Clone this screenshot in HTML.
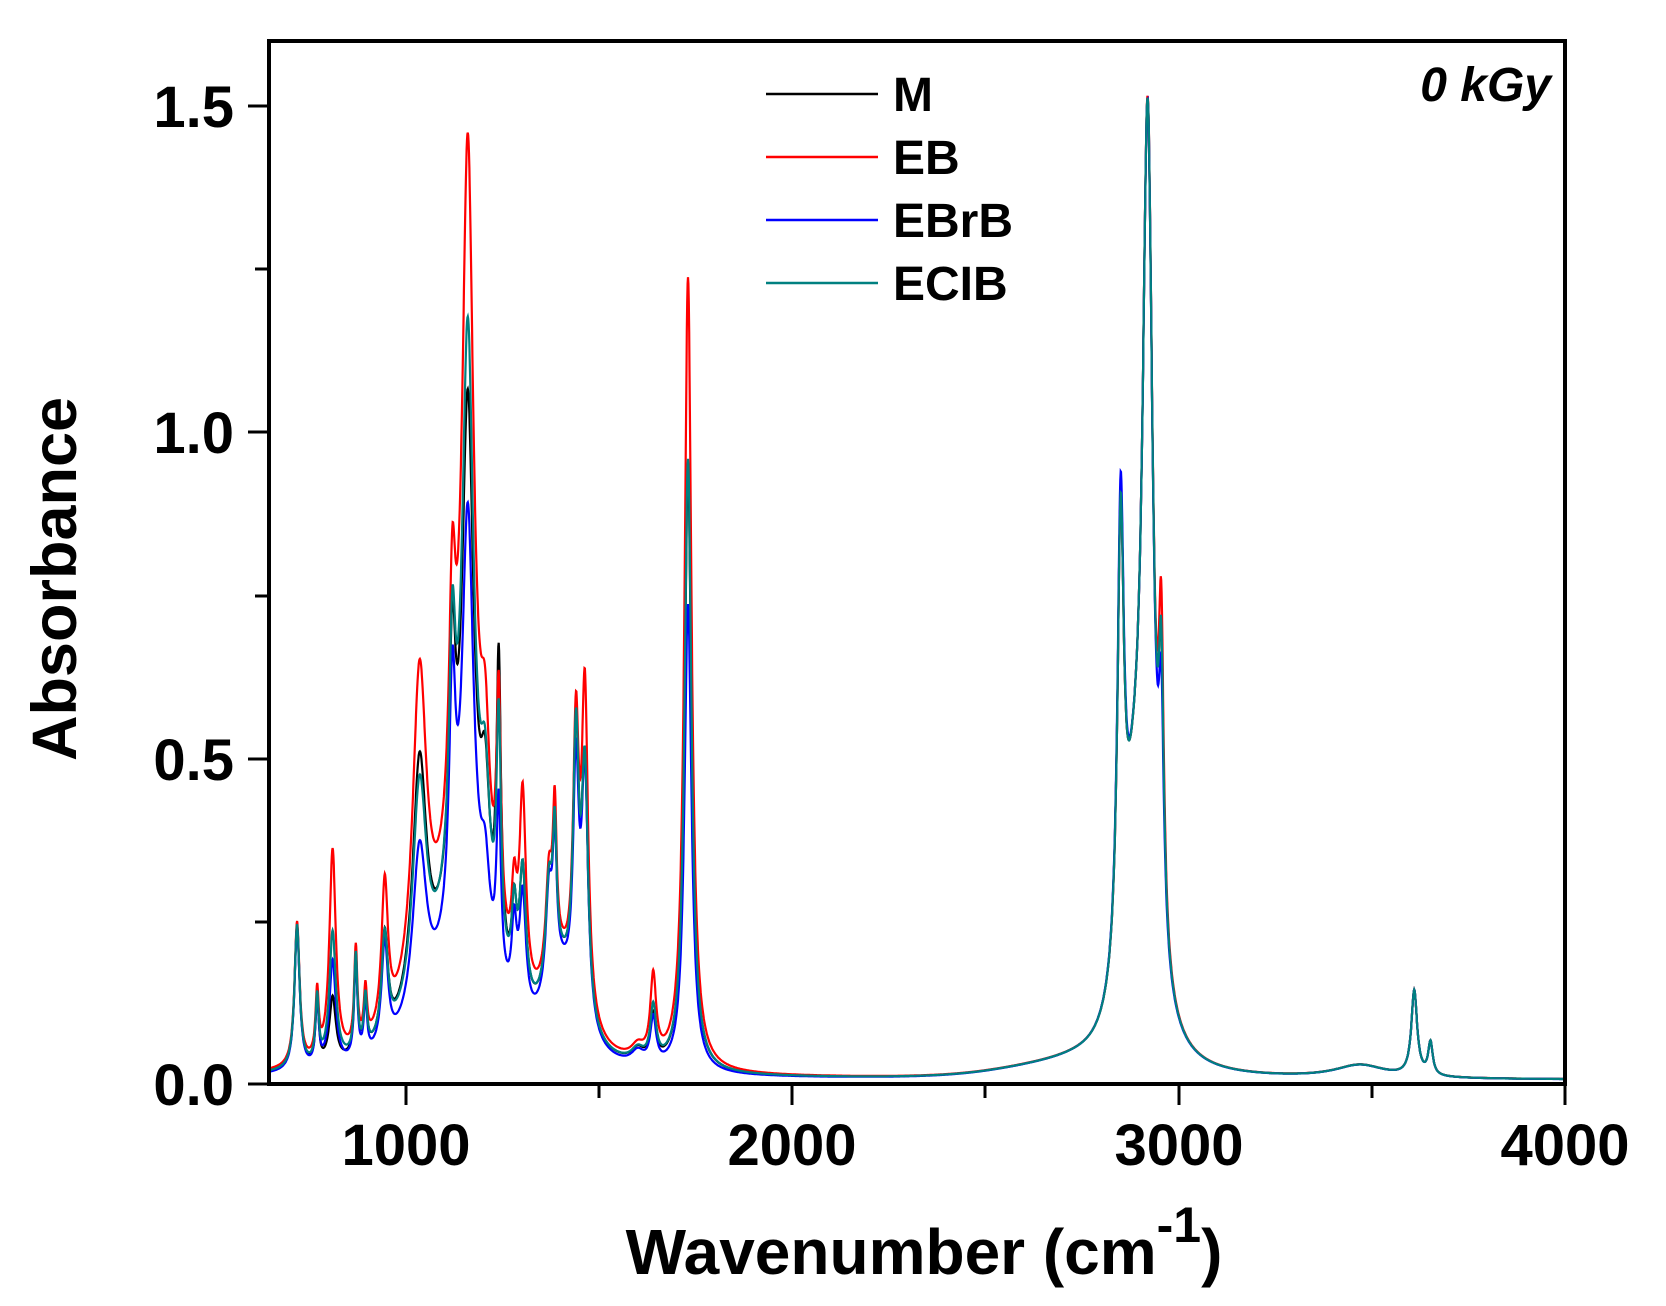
<!DOCTYPE html>
<html><head><meta charset="utf-8"><style>
body{margin:0;background:#fff;}
svg{display:block;font-family:"Liberation Sans",Arial,sans-serif;font-weight:bold;}
</style></head><body>
<svg id="s" width="1666" height="1306" xmlns="http://www.w3.org/2000/svg">
<rect width="1666" height="1306" fill="#fff"/>
<g id="curves"></g>
<rect x="269" y="41" width="1296" height="1043" fill="none" stroke="#000" stroke-width="4"/>
<g stroke="#000" stroke-width="3">
<line x1="248" y1="1084" x2="269" y2="1084"/><line x1="255" y1="922" x2="269" y2="922"/>
<line x1="248" y1="759" x2="269" y2="759"/><line x1="255" y1="596" x2="269" y2="596"/>
<line x1="248" y1="432" x2="269" y2="432"/><line x1="255" y1="269" x2="269" y2="269"/>
<line x1="248" y1="106" x2="269" y2="106"/>
<line x1="406" y1="1084" x2="406" y2="1105"/><line x1="599" y1="1084" x2="599" y2="1098"/>
<line x1="792" y1="1084" x2="792" y2="1105"/><line x1="985" y1="1084" x2="985" y2="1098"/>
<line x1="1179" y1="1084" x2="1179" y2="1105"/><line x1="1372" y1="1084" x2="1372" y2="1098"/>
<line x1="1565" y1="1084" x2="1565" y2="1105"/>
</g>
<g font-size="58" text-anchor="end">
<text x="234" y="1105">0.0</text><text x="234" y="780">0.5</text>
<text x="234" y="453">1.0</text><text x="234" y="127">1.5</text>
</g>
<g font-size="58" text-anchor="middle">
<text x="406" y="1165">1000</text><text x="792" y="1165">2000</text>
<text x="1179" y="1165">3000</text><text x="1565" y="1165">4000</text>
</g>
<text x="924" y="1274" font-size="64" text-anchor="middle">Wavenumber (cm<tspan dy="-32" font-size="50">-1</tspan><tspan dy="32">)</tspan></text>
<text transform="translate(76,579) rotate(-90)" font-size="63" text-anchor="middle">Absorbance</text>
<text x="1551" y="101" font-size="48" font-style="italic" text-anchor="end">0 kGy</text>
<g stroke-width="2.5">
<line x1="766" y1="94" x2="878" y2="94" stroke="#000"/>
<line x1="766" y1="157" x2="878" y2="157" stroke="#f00"/>
<line x1="766" y1="220" x2="878" y2="220" stroke="#00f"/>
<line x1="766" y1="283" x2="878" y2="283" stroke="#008080"/>
</g>
<g font-size="48">
<text x="893" y="111">M</text><text x="893" y="174">EB</text>
<text x="893" y="237">EBrB</text><text x="893" y="300">ECIB</text>
</g>
</svg>
<script>
var base=[[718,.22,8],[770,.1,5],[810,.1,10],[870,.15,5],[895,.08,5],[945,.16,10],[1035,.38,22],[1120,.35,10],[1160,.75,18],[1205,.2,14],[1240,.45,7],[1280,.12,8],[1302,.2,10],[1370,.15,10],[1385,.2,6],[1440,.4,9],[1463,.38,10],[1640,.07,9],[1730,.92,11],[2850,.66,10],[2920,1.3,16],[2955,.4,8],[3610,.13,9],[3652,.05,7],[1600,.02,20],
[1150,.25,90],[1400,.12,50],[2885,.3,40],[3470,.02,80]];
var mods={
"#000":{},
"#f00":{810:3.2,945:1.4,1035:1.3,1160:1.45,1205:1.1,1240:0.8,1302:1.5,1385:1.1,1463:1.3,1640:1.8,1730:1.32,2955:1.15,1150:1.2},
"#00f":{810:1.6,1035:0.7,1160:0.85,1205:0.6,1240:0.6,1302:0.9,1440:0.9,1730:0.78,2850:1.05,2955:0.85,1150:0.8},
"#008080":{810:2,1035:0.9,1160:1.15,1240:0.8,1730:1.02,1640:1.2}};
function X(w){return 406+(w-1000)*0.3863;}
function Y(a){return 1084-a*652.7;}
var g=document.getElementById('curves'),h='';
["#000","#f00","#00f","#008080"].forEach(function(c){
 var m=mods[c],d='';
 for(var w=650;w<=4000;w+=1){
  var a=0.006;
  var s=1/(1+Math.exp(-(w-2550)/80))*1/(1+Math.exp((w-2780)/30));
  a+=0.02*s;
  base.forEach(function(p){var k=(m[p[0]]||1)*p[1];var t=(w-p[0])/p[2];a+=k/(1+t*t);});
  if(a<0)a=0;
  d+=(d?'L':'M')+X(w).toFixed(1)+' '+Y(a).toFixed(1);
 }
 h+='<path d="'+d+'" fill="none" stroke="'+c+'" stroke-width="2.2"/>';
});
g.innerHTML=h;
</script>
</body></html>
